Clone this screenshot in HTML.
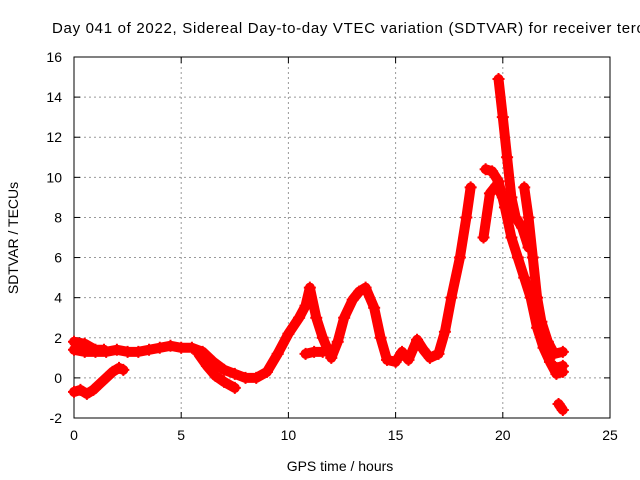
<!DOCTYPE html>
<html><head><meta charset="utf-8"><style>
body{margin:0;background:#fff}
svg{display:block;font-family:"Liberation Sans",sans-serif}
</style></head><body>
<svg id="chart" width="640" height="480">
<text x="52" y="33" font-size="15" textLength="592" lengthAdjust="spacing" fill="#000">Day 041 of 2022, Sidereal Day-to-day VTEC variation (SDTVAR) for receiver terc</text>
<g id="grid"></g><g id="axes"></g><g id="marks"></g>
<text x="340" y="471" font-size="14" text-anchor="middle">GPS time / hours</text>
<text transform="translate(18,238) rotate(-90)" font-size="14" text-anchor="middle">SDTVAR / TECUs</text>
</svg>
<script>
const xTicks=[0,5,10,15,20,25];
const yTicks=[-2,0,2,4,6,8,10,12,14,16];
const mainH=[0,0.5,1,1.5,2,2.5,3,3.5,4,4.5,5,5.5,6,6.5,7,7.5,8,8.5,9,9.5,10,10.5,10.8,11,11.3,11.6,12,12.3,12.6,13,13.3,13.6,14,14.3,14.6,15,15.3,15.6,16,16.3,16.6,17,17.3,17.6,18,18.3,18.5];
const mainV=[1.4,1.3,1.3,1.3,1.4,1.3,1.3,1.4,1.5,1.6,1.5,1.5,1.3,0.8,0.4,0.2,0.0,0.0,0.3,1.2,2.2,3.0,3.6,4.5,3.0,2.0,1.0,1.8,3.0,3.9,4.3,4.5,3.5,2.0,0.9,0.8,1.3,0.9,1.9,1.4,1.0,1.2,2.3,4.0,6.0,8.0,9.5];
const upperH=[0,0.5,1,1.4];
const upperV=[1.8,1.7,1.4,1.4];
const lowH=[0,0.3,0.6,0.9,1.2,1.5,1.8,2.1,2.3];
const lowV=[-0.7,-0.6,-0.8,-0.6,-0.3,0.0,0.3,0.5,0.4];
const dipH=[5.8,6.2,6.6,7.0,7.5];
const dipV=[1.2,0.6,0.1,-0.2,-0.5];
const stubH=[10.8,11.2,11.6];
const stubV=[1.2,1.3,1.3];
const peakH=[19.2,19.5,19.8,20.1,20.4,20.7,21,21.3,21.6,21.9,22.2,22.5,22.8];
const peakV=[10.4,10.3,9.8,8.5,7.0,6.0,5.0,4.0,2.5,1.5,0.8,0.2,0.3];
const spikeH=[19.8,20,20.2,20.4,20.6,20.9,21.2];
const spikeV=[14.9,13.0,11.0,9.0,8.0,7.5,6.5];
const tailH=[21,21.2,21.4,21.6,21.8,22.1,22.4,22.8];
const tailV=[9.5,8.0,6.0,4.0,2.8,1.8,1.2,1.3];
const midH=[19.1,19.4,19.7,20.0];
const midV=[7.0,9.2,9.6,9.0];
const endH=[22.5,22.8];
const endV=[0.5,0.6];
const dropH=[22.6,22.8];
const dropV=[-1.3,-1.6];
const series=[[mainH,mainV],[upperH,upperV],[lowH,lowV],[dipH,dipV],[stubH,stubV],[peakH,peakV],[spikeH,spikeV],[tailH,tailV],[midH,midV],[endH,endV],[dropH,dropV]];
const X0=74,X1=610,Y0=418,Y1=57;
const xs=h=>X0+(h-0)/(25-0)*(X1-X0);
const ys=v=>Y0-(v+2)/(18)*(Y0-Y1);
const NS="http://www.w3.org/2000/svg";
function mk(t,a,p){const e=document.createElementNS(NS,t);for(const k in a)e.setAttribute(k,a[k]);p.appendChild(e);return e;}
const grid=document.getElementById('grid'),axes=document.getElementById('axes'),marks=document.getElementById('marks');
xTicks.forEach(t=>{const x=xs(t);
 if(t>0&&t<25){const g=mk('line',{x1:x,x2:x,y1:Y1,y2:Y0,stroke:'#999','stroke-dasharray':'2,3'},grid);
 
 }
 mk('line',{x1:x,x2:x,y1:Y0,y2:Y0-6,stroke:'#000'},axes);mk('line',{x1:x,x2:x,y1:Y1,y2:Y1+6,stroke:'#000'},axes);
 const l=mk('text',{x:x,y:Y0+22,'font-size':14,'text-anchor':'middle'},axes);l.textContent=t;
 
 });
yTicks.forEach(t=>{const y=ys(t);
 if(t>-2&&t<16){const g=mk('line',{x1:X0,x2:X1,y1:y,y2:y,stroke:'#999','stroke-dasharray':'2,3'},grid);
 
 }
 mk('line',{x1:X0,x2:X0+6,y1:y,y2:y,stroke:'#000'},axes);mk('line',{x1:X1,x2:X1-6,y1:y,y2:y,stroke:'#000'},axes);
 const l=mk('text',{x:X0-12,y:y+5,'font-size':14,'text-anchor':'end'},axes);l.textContent=t;
 
 });
const fr=mk('rect',{x:X0,y:Y1,width:X1-X0,height:Y0-Y1,fill:'none',stroke:'#000'},axes);


series.forEach(([H,V])=>{
 const pl=mk('polyline',{points:H.map((h,i)=>xs(h)+','+ys(V[i])).join(' '),fill:'none',stroke:'#f00','stroke-width':10,'stroke-linejoin':'round','stroke-linecap':'round'},marks);
 
 
 H.forEach((h,i)=>{const x=xs(h),y=ys(V[i]);
  const p=mk('path',{d:`M${x-6},${y}H${x+6}M${x},${y-6}V${y+6}`,stroke:'#f00','stroke-width':2},marks);
  
  });
});
</script>
</body></html>
